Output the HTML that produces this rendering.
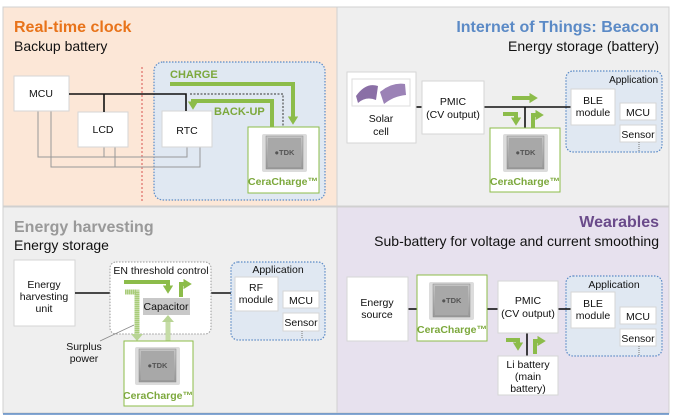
<!DOCTYPE html>
<html><head><meta charset="utf-8"><style>
html,body{margin:0;padding:0;background:#fff;}
svg{display:block;font-family:"Liberation Sans",Arial,sans-serif;}
.b{fill:#fff;stroke:#d6d6d6;stroke-width:1}
.t{font-size:10.5px;fill:#111;text-anchor:middle}
.g{fill:none;stroke:#8cbc4a;stroke-width:4}
.cc{font-size:10.5px;font-weight:bold;fill:#7ca83c;text-anchor:middle}
</style></head><body>
<svg width="674" height="418" viewBox="0 0 674 418" xmlns="http://www.w3.org/2000/svg">
<defs>
<linearGradient id="cg" x1="0" y1="0" x2="0" y2="1"><stop offset="0" stop-color="#c4c4c4"/><stop offset="1" stop-color="#999"/></linearGradient>
<g id="chip">
<rect x="0" y="0" width="45" height="38" rx="2" fill="#dcdcdc"/>
<rect x="4" y="2" width="37" height="33" fill="url(#cg)" stroke="#888" stroke-width="0.5"/>
<rect x="6" y="4" width="33" height="29" fill="#a8a8a8"/>
<text x="22.5" y="21" font-size="7.5" font-weight="bold" fill="#555" text-anchor="middle">●TDK</text>
</g>
<marker id="ah" markerWidth="2.2" markerHeight="2.6" refX="0.4" refY="1.3" orient="auto" markerUnits="strokeWidth"><path d="M0,0L2.1,1.3L0,2.6z" fill="#8cbc4a"/></marker>
</defs>
<rect x="3" y="7" width="334" height="199" fill="#fce7d7" stroke="#d0d0d0"/>
<rect x="337" y="7" width="332" height="199" fill="#efefef" stroke="#d0d0d0"/>
<rect x="3" y="207" width="334" height="206" fill="#efefef" stroke="#d0d0d0"/>
<rect x="337" y="207" width="332" height="206" fill="#e7e1ee" stroke="#d0d0d0"/>
<line x1="3" y1="414" x2="669" y2="414" stroke="#5b8ac6" stroke-width="1.5"/>

<!-- TL -->
<text x="14" y="32" font-size="16" font-weight="bold" fill="#e8731a">Real-time clock</text>
<text x="14" y="51" font-size="14" fill="#111">Backup battery</text>
<rect x="154" y="62" width="171" height="138" rx="9" fill="#e0e8f2" stroke="#5b8ac6" stroke-width="1.2" stroke-dasharray="1.5,1.5"/>
<line x1="142" y1="67" x2="142" y2="202" stroke="#d9534f" stroke-width="1" stroke-dasharray="2,2"/>
<g fill="none" stroke="#999" stroke-width="1">
<polyline points="38,111 38,157 187,157 187,147"/>
<polyline points="51,111 51,167 200,167 200,147"/>
<line x1="104" y1="147" x2="104" y2="157"/>
<line x1="115" y1="147" x2="115" y2="167"/>
</g>
<rect class="b" x="14" y="76" width="55" height="35"/>
<rect class="b" x="78" y="112" width="50" height="35"/>
<rect class="b" x="162" y="111" width="50" height="36"/>
<text class="t" x="41" y="97">MCU</text>
<text class="t" x="103" y="133">LCD</text>
<text class="t" x="187" y="134">RTC</text>
<polyline points="69,94 186,94 186,111" fill="none" stroke="#111" stroke-width="1.6"/>
<line x1="104" y1="94" x2="104" y2="112" stroke="#111" stroke-width="1.6"/>
<polyline points="190,94 283,94 283,127" fill="none" stroke="#333" stroke-width="1" stroke-dasharray="2,1.5"/>
<text x="170" y="78" font-size="11" font-weight="bold" fill="#7ca83c">CHARGE</text>
<polyline class="g" points="170,84 293,84 293,118" marker-end="url(#ah)"/>
<polyline class="g" points="272,127 272,101 193,101 193,103" marker-end="url(#ah)"/>
<text x="214" y="115" font-size="11" font-weight="bold" fill="#7ca83c">BACK-UP</text>
<rect x="248" y="127" width="71" height="66" fill="#fff" stroke="#8cbc4a"/>
<use href="#chip" x="262" y="134"/>
<text class="cc" x="283" y="185">CeraCharge™</text>

<!-- TR -->
<text x="659" y="32" font-size="16" font-weight="bold" fill="#5b8ac6" text-anchor="end">Internet of Things: Beacon</text>
<text x="659" y="51" font-size="14" fill="#111" text-anchor="end">Energy storage (battery)</text>
<rect x="566" y="71" width="96" height="81" rx="7" fill="#e0e8f2" stroke="#5b8ac6" stroke-width="1.2" stroke-dasharray="1.5,1.5"/>
<text x="658" y="83" font-size="10" fill="#111" text-anchor="end">Application</text>
<line x1="416" y1="107" x2="422" y2="107" stroke="#111" stroke-width="1.6"/>
<line x1="484" y1="107" x2="571" y2="107" stroke="#111" stroke-width="1.6"/>
<line x1="525" y1="107" x2="525" y2="128" stroke="#111" stroke-width="1.6"/>
<rect class="b" x="347" y="72" width="69" height="71"/>
<rect x="352" y="79" width="58" height="27" fill="#fff" stroke="#ddd"/>
<path d="M356,96 Q366,82 378,86 L376,100 Q366,96 358,103Z" fill="#8a6fa6"/>
<path d="M380,92 Q392,82 405,84 L406,95 Q394,96 384,104Z" fill="#9b82b6"/>
<text class="t" x="381" y="122">Solar</text>
<text class="t" x="381" y="135">cell</text>
<rect class="b" x="422" y="81" width="62" height="53"/>
<text class="t" x="453" y="105">PMIC</text>
<text class="t" x="453" y="118">(CV output)</text>
<line class="g" x1="512" y1="98" x2="531" y2="98" marker-end="url(#ah)"/>
<polyline class="g" points="503,114 516,114 516,119" marker-end="url(#ah)"/>
<polyline class="g" points="533,128 533,115 537,115" marker-end="url(#ah)"/>
<rect class="b" x="571" y="89" width="44" height="36"/>
<text class="t" x="593" y="104">BLE</text>
<text class="t" x="593" y="116">module</text>
<rect class="b" x="620" y="103" width="36" height="17"/>
<text class="t" x="638" y="116">MCU</text>
<rect class="b" x="620" y="125" width="36" height="17"/>
<text class="t" x="638" y="138">Sensor</text>
<line x1="639" y1="142" x2="639" y2="151" stroke="#777" stroke-dasharray="1,1"/>
<rect x="490" y="128" width="70" height="64" fill="#fff" stroke="#8cbc4a"/>
<use href="#chip" x="503" y="134"/>
<text class="cc" x="525" y="185">CeraCharge™</text>

<!-- BL -->
<text x="14" y="232" font-size="16" font-weight="bold" fill="#999">Energy harvesting</text>
<text x="14" y="250" font-size="14" fill="#111">Energy storage</text>
<rect class="b" x="14" y="260" width="61" height="66"/>
<text class="t" x="44" y="288">Energy</text>
<text class="t" x="44" y="300">harvesting</text>
<text class="t" x="44" y="312">unit</text>
<line x1="75" y1="293" x2="110" y2="293" stroke="#111" stroke-width="1.6"/>
<line x1="211" y1="293" x2="232" y2="293" stroke="#111" stroke-width="1.6"/>
<rect x="110" y="262" width="101" height="72" rx="6" fill="#fff" stroke="#999" stroke-dasharray="1.5,1.5"/>
<text class="t" x="161" y="274">EN threshold control</text>
<rect x="143" y="298" width="47" height="17" fill="#c8c8c8"/>
<text class="t" x="166" y="310">Capacitor</text>
<polyline class="g" points="124,282 168,282 168,287" marker-end="url(#ah)"/>
<polyline class="g" points="181,297 181,284 185,284" marker-end="url(#ah)"/>
<polyline points="125,292 137,292 137,334" fill="none" stroke="#c5dca6" stroke-width="5"/>
<polyline points="125,292 137,292 137,334" fill="none" stroke="#8cbc4a" stroke-width="5" stroke-dasharray="1,1" opacity="0.5"/>
<path d="M131,334 L143,334 L137,341Z" fill="#b8d494"/>
<line x1="168" y1="341" x2="168" y2="322" stroke="#c5dca6" stroke-width="5"/>
<path d="M162,322 L174,322 L168,315Z" fill="#b8d494"/>
<line x1="100" y1="341" x2="134" y2="325" stroke="#888" stroke-width="0.8"/>
<text class="t" x="84" y="350">Surplus</text>
<text class="t" x="84" y="362">power</text>
<rect x="124" y="341" width="69" height="65" fill="#fff" stroke="#8cbc4a"/>
<use href="#chip" x="135" y="347"/>
<text class="cc" x="158" y="399">CeraCharge™</text>
<rect x="231" y="262" width="94" height="78" rx="7" fill="#e0e8f2" stroke="#5b8ac6" stroke-width="1.2" stroke-dasharray="1.5,1.5"/>
<text class="t" x="278" y="273">Application</text>
<rect class="b" x="235" y="277" width="43" height="34"/>
<text class="t" x="256" y="291">RF</text>
<text class="t" x="256" y="303">module</text>
<rect class="b" x="283" y="291" width="36" height="17"/>
<text class="t" x="301" y="304">MCU</text>
<rect class="b" x="283" y="313" width="36" height="18"/>
<text class="t" x="301" y="326">Sensor</text>
<line x1="302" y1="331" x2="302" y2="339" stroke="#777" stroke-dasharray="1,1"/>

<!-- BR -->
<text x="659" y="227" font-size="16" font-weight="bold" fill="#6a4a8a" text-anchor="end">Wearables</text>
<text x="659" y="246" font-size="14" fill="#111" text-anchor="end">Sub-battery for voltage and current smoothing</text>
<rect x="566" y="276" width="96" height="80" rx="7" fill="#e0e8f2" stroke="#5b8ac6" stroke-width="1.2" stroke-dasharray="1.5,1.5"/>
<text class="t" x="614" y="288">Application</text>
<g stroke="#111" stroke-width="1.6">
<line x1="408" y1="309" x2="417" y2="309"/>
<line x1="487" y1="309" x2="498" y2="309"/>
<line x1="558" y1="309" x2="571" y2="309"/>
<line x1="527" y1="333" x2="527" y2="356"/>
</g>
<rect class="b" x="347" y="277" width="61" height="64"/>
<text class="t" x="377" y="306">Energy</text>
<text class="t" x="377" y="318">source</text>
<rect x="417" y="275" width="70" height="66" fill="#fff" stroke="#8cbc4a"/>
<use href="#chip" x="429" y="282"/>
<text class="cc" x="452" y="333">CeraCharge™</text>
<rect class="b" x="498" y="281" width="60" height="52"/>
<text class="t" x="528" y="304">PMIC</text>
<text class="t" x="528" y="317">(CV output)</text>
<rect class="b" x="571" y="292" width="44" height="36"/>
<text class="t" x="593" y="307">BLE</text>
<text class="t" x="593" y="319">module</text>
<rect class="b" x="620" y="307" width="36" height="17"/>
<text class="t" x="638" y="320">MCU</text>
<rect class="b" x="620" y="329" width="36" height="17"/>
<text class="t" x="638" y="342">Sensor</text>
<line x1="639" y1="346" x2="639" y2="355" stroke="#777" stroke-dasharray="1,1"/>
<polyline class="g" points="506,340 518,340 518,344" marker-end="url(#ah)"/>
<polyline class="g" points="535,354 535,341 539,341" marker-end="url(#ah)"/>
<rect class="b" x="498" y="356" width="60" height="39"/>
<text class="t" x="528" y="368">Li battery</text>
<text class="t" x="528" y="380">(main</text>
<text class="t" x="528" y="392">battery)</text>
</svg>
</body></html>
